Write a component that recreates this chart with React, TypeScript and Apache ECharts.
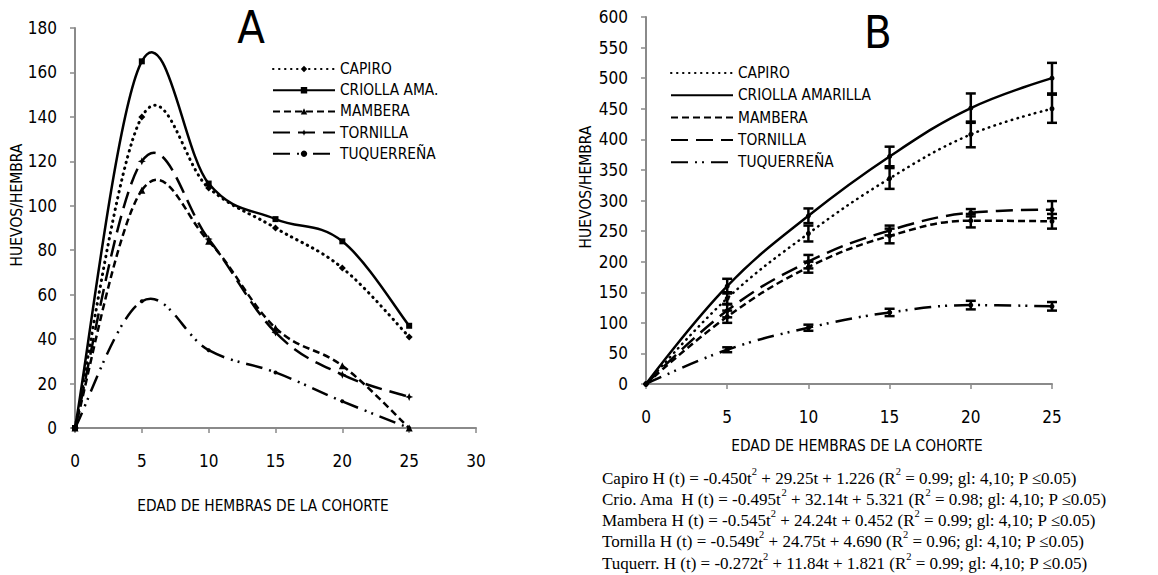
import React, { useEffect, useRef } from 'react';
import * as echarts from 'echarts';

// ---------- DATA ----------
const ages = [0, 5, 10, 15, 20, 25];

// Panel A: eggs per female by age (H/H)
const namesA = ['CAPIRO', 'CRIOLLA AMA.', 'MAMBERA', 'TORNILLA', 'TUQUERREÑA'];
const capiroA = [0, 140, 108, 90, 72, 41];
const criollaA = [0, 165, 110, 94, 84, 46];
const mamberaA = [0, 107, 84, 45, 28, 0];
const tornillaA = [0, 120, 85, 43, 24, 14];
const tuquerrenaA = [0, 57, 35, 25, 12, 0];

// Panel B: cumulative eggs per female, mean and error
const namesB = ['CAPIRO', 'CRIOLLA AMARILLA', 'MAMBERA', 'TORNILLA', 'TUQUERREÑA'];
const capiroB = [0, 140, 246, 336, 408, 450];
const capiroErrB = [0, 10, 13, 17, 21, 23];
const criollaB = [0, 160, 275, 372, 451, 500];
const criollaErrB = [0, 12, 12, 16, 24, 25];
const mamberaB = [0, 110, 191, 242, 267, 266];
const mamberaErrB = [0, 10, 9, 12, 11, 12];
const tornillaB = [0, 120, 200, 251, 280, 285];
const tornillaErrB = [0, 11, 11, 8, 6, 14];
const tuquerrenaB = [0, 56, 92, 117, 129, 127];
const tuquerrenaErrB = [0, 4, 5, 6, 7, 7];

const equations = [
  'Capiro H (t) = -0.450t^2 + 29.25t + 1.226 (R^2 = 0.99; gl: 4,10; P ≤0.05)',
  'Crio. Ama  H (t) = -0.495t^2 + 32.14t + 5.321 (R^2 = 0.98; gl: 4,10; P ≤0.05)',
  'Mambera H (t) = -0.545t^2 + 24.24t + 0.452 (R^2 = 0.99; gl: 4,10; P ≤0.05)',
  'Tornilla H (t) = -0.549t^2 + 24.75t + 4.690 (R^2 = 0.96; gl: 4,10; P ≤0.05)',
  'Tuquerr. H (t) = -0.272t^2 + 11.84t + 1.821 (R^2 = 0.99; gl: 4,10; P ≤0.05)',
];

const FONT = "'Liberation Sans Narrow', 'Arial Narrow', 'DejaVu Sans Condensed', sans-serif";
const SERIF = "'Liberation Serif', 'Times New Roman', serif";

const dashStyles = [
  { width: 3, type: [0.5, 5.5] as any, cap: 'round' as const },
  { width: 2.5, type: 'solid' as any, cap: 'butt' as const },
  { width: 2.5, type: [7, 4] as any, cap: 'butt' as const },
  { width: 2.5, type: [17, 8] as any, cap: 'butt' as const },
  { width: 2.5, type: [17, 7, 2, 5, 2, 7] as any, cap: 'butt' as const },
];
const symbolsA = [
  'diamond',
  'rect',
  'triangle',
  'path://M5,0 L6.5,3.5 L10,5 L6.5,6.5 L5,10 L3.5,6.5 L0,5 L3.5,3.5 Z',
  'circle',
];
const symbolSizesA = [7, 6, 7, 8, 4];

const valuesA = [capiroA, criollaA, mamberaA, tornillaA, tuquerrenaA];
const valuesB = [capiroB, criollaB, mamberaB, tornillaB, tuquerrenaB];
const errorsB = [capiroErrB, criollaErrB, mamberaErrB, tornillaErrB, tuquerrenaErrB];

const axisColor = '#8a8a8a';
const TENSION = 0.185;

function axisBase(extra: any) {
  return {
    type: 'value',
    axisLine: { show: true, lineStyle: { color: axisColor, width: 2 } },
    axisTick: { show: true, inside: false, length: 5, lineStyle: { color: axisColor, width: 1.5 } },
    splitLine: { show: false },
    ...extra,
  };
}

function eqRich(s: string) {
  const parts = s.split('^2');
  return parts
    .map((p, i) => `{n|${p}}` + (i < parts.length - 1 ? '{s|2}' : ''))
    .join('');
}

// Smoothed curve (Excel-like) for panel A, drawn segment by segment through the axis scale
function curveSeries(k: number) {
  const vals = valuesA[k];
  const st = dashStyles[k];
  const n = ages.length;
  return {
    type: 'custom',
    xAxisIndex: 0,
    yAxisIndex: 0,
    encode: { x: 0, y: 1 },
    data: ages.map((x, i) => [x, vals[i]]),
    silent: true,
    z: 2,
    renderItem: (params: any, api: any) => {
      const i = params.dataIndex;
      if (i >= n - 1) return { type: 'group', children: [] };
      const c = (j: number) => {
        const jj = Math.max(0, Math.min(n - 1, j));
        return api.coord([ages[jj], vals[jj]]);
      };
      const p0 = c(i - 1), p1 = c(i), p2 = c(i + 1), p3 = c(i + 2);
      return {
        type: 'bezierCurve',
        shape: {
          x1: p1[0], y1: p1[1], x2: p2[0], y2: p2[1],
          cpx1: p1[0] + (p2[0] - p0[0]) * TENSION,
          cpy1: p1[1] + (p2[1] - p0[1]) * TENSION,
          cpx2: p2[0] - (p3[0] - p1[0]) * TENSION,
          cpy2: p2[1] - (p3[1] - p1[1]) * TENSION,
        },
        style: {
          stroke: '#000',
          fill: 'none',
          lineWidth: st.width,
          lineDash: st.type === 'solid' ? null : st.type,
          lineCap: st.cap,
        },
      };
    },
  };
}

export default function App() {
  const ref = useRef<HTMLDivElement>(null);

  useEffect(() => {
    if (!ref.current) return;
    const chart = echarts.init(ref.current, undefined, { renderer: 'svg' });

    // markers (and legend entries) for panel A; line itself drawn by curveSeries
    const seriesA = namesA.map((name, k) => ({
      name,
      type: 'line',
      xAxisIndex: 0,
      yAxisIndex: 0,
      symbol: symbolsA[k],
      symbolSize: symbolSizesA[k],
      itemStyle: { color: '#000' },
      lineStyle: { color: '#000', ...dashStyles[k], opacity: 0 },
      data: ages.map((x, i) => [x, valuesA[k][i]]),
      z: 3,
    }));
    const curvesA = namesA.map((_, k) => curveSeries(k));

    const seriesB = namesB.map((name, k) => ({
      name: 'B:' + name,
      type: 'line',
      xAxisIndex: 1,
      yAxisIndex: 1,
      smooth: 0.4,
      symbol: 'circle',
      symbolSize: 5,
      itemStyle: { color: '#000' },
      lineStyle: { color: '#000', ...dashStyles[k], width: 2.5 },
      data: ages.map((x, i) => [x, valuesB[k][i]]),
      z: 3,
    }));

    const errData: number[][] = [];
    valuesB.forEach((arr, k) => {
      ages.forEach((x, i) => {
        if (errorsB[k][i] > 0) errData.push([x, arr[i], errorsB[k][i]]);
      });
    });

    const errorSeries = {
      type: 'custom',
      xAxisIndex: 1,
      yAxisIndex: 1,
      encode: { x: 0, y: 1 },
      data: errData,
      z: 4,
      silent: true,
      renderItem: (params: any, api: any) => {
        const x = api.value(0);
        const y = api.value(1);
        const e = api.value(2);
        const top = api.coord([x, y + e]);
        const bot = api.coord([x, y - e]);
        const hw = 5;
        const st = { stroke: '#000', lineWidth: 2.5 };
        return {
          type: 'group',
          children: [
            { type: 'line', shape: { x1: top[0], y1: top[1], x2: bot[0], y2: bot[1] }, style: st },
            { type: 'line', shape: { x1: top[0] - hw, y1: top[1], x2: top[0] + hw, y2: top[1] }, style: st },
            { type: 'line', shape: { x1: bot[0] - hw, y1: bot[1], x2: bot[0] + hw, y2: bot[1] }, style: st },
          ],
        };
      },
    };

    const labelStyle = { color: '#000', fontSize: 17, fontFamily: FONT };

    const graphics: any[] = [
      { type: 'text', x: 251, y: 27, style: { text: 'A', fontSize: 45, fontFamily: FONT, fill: '#000', align: 'center', verticalAlign: 'middle' } },
      { type: 'text', x: 878, y: 32, style: { text: 'B', fontSize: 45, fontFamily: FONT, fill: '#000', align: 'center', verticalAlign: 'middle' } },
      { type: 'text', x: 17, y: 205, rotation: Math.PI / 2, style: { text: 'HUEVOS/HEMBRA', fontSize: 15.5, fontFamily: FONT, fill: '#000', align: 'center', verticalAlign: 'middle' } },
      { type: 'text', x: 586, y: 187, rotation: Math.PI / 2, style: { text: 'HUEVOS/HEMBRA', fontSize: 15.5, fontFamily: FONT, fill: '#000', align: 'center', verticalAlign: 'middle' } },
      { type: 'text', x: 263, y: 506, style: { text: 'EDAD DE HEMBRAS DE LA COHORTE', fontSize: 15.3, fontFamily: FONT, fill: '#000', align: 'center', verticalAlign: 'middle' } },
      { type: 'text', x: 857, y: 446, style: { text: 'EDAD DE HEMBRAS DE LA COHORTE', fontSize: 15.3, fontFamily: FONT, fill: '#000', align: 'center', verticalAlign: 'middle' } },
    ];
    equations.forEach((eq, i) => {
      graphics.push({
        type: 'text',
        x: 602,
        y: 476 + i * 21.3,
        style: {
          text: eqRich(eq),
          fill: '#000',
          align: 'left',
          verticalAlign: 'middle',
          rich: {
            n: { fontSize: 17, fontFamily: SERIF, fill: '#000', lineHeight: 21, verticalAlign: 'bottom' },
            s: { fontSize: 10.5, fontFamily: SERIF, fill: '#000', lineHeight: 21, verticalAlign: 'top' },
          },
        },
      });
    });

    const legendText = { color: '#000', fontSize: 15.3, fontFamily: FONT, lineHeight: 16 };

    chart.setOption({
      animation: false,
      backgroundColor: '#fff',
      grid: [
        { left: 75, top: 28, width: 401, height: 400 },
        { left: 646, top: 17, width: 406, height: 367 },
      ],
      xAxis: [
        axisBase({ gridIndex: 0, min: 0, max: 30, interval: 5, axisLabel: { ...labelStyle, margin: 24 } }),
        axisBase({ gridIndex: 1, min: 0, max: 25, interval: 5, axisLabel: { ...labelStyle, margin: 24 } }),
      ],
      yAxis: [
        axisBase({ gridIndex: 0, min: 0, max: 180, interval: 20, axisLabel: { ...labelStyle, margin: 18 } }),
        axisBase({ gridIndex: 1, min: 0, max: 600, interval: 50, axisLabel: { ...labelStyle, margin: 18 } }),
      ],
      legend: [
        {
          data: namesA,
          orient: 'vertical',
          left: 272,
          top: 61,
          padding: 0,
          itemWidth: 62,
          itemHeight: 8,
          itemGap: 5.2,
          selectedMode: false,
          lineStyle: { opacity: 1 },
          textStyle: legendText,
        },
        {
          data: namesB.map((n) => ({ name: 'B:' + n, itemStyle: { opacity: 0 } })),
          formatter: (n: string) => n.replace('B:', ''),
          orient: 'vertical',
          left: 670,
          top: 65,
          padding: 0,
          itemWidth: 62,
          itemHeight: 8,
          itemGap: 6.3,
          selectedMode: false,
          textStyle: legendText,
        },
      ],
      graphic: graphics,
      series: [...curvesA, ...seriesA, ...seriesB, errorSeries],
    } as any);

    return () => chart.dispose();
  }, []);

  return (
    <div
      ref={ref}
      style={{ position: 'absolute', left: 0, top: 0, width: 1158, height: 575, background: '#fff' }}
    />
  );
}
